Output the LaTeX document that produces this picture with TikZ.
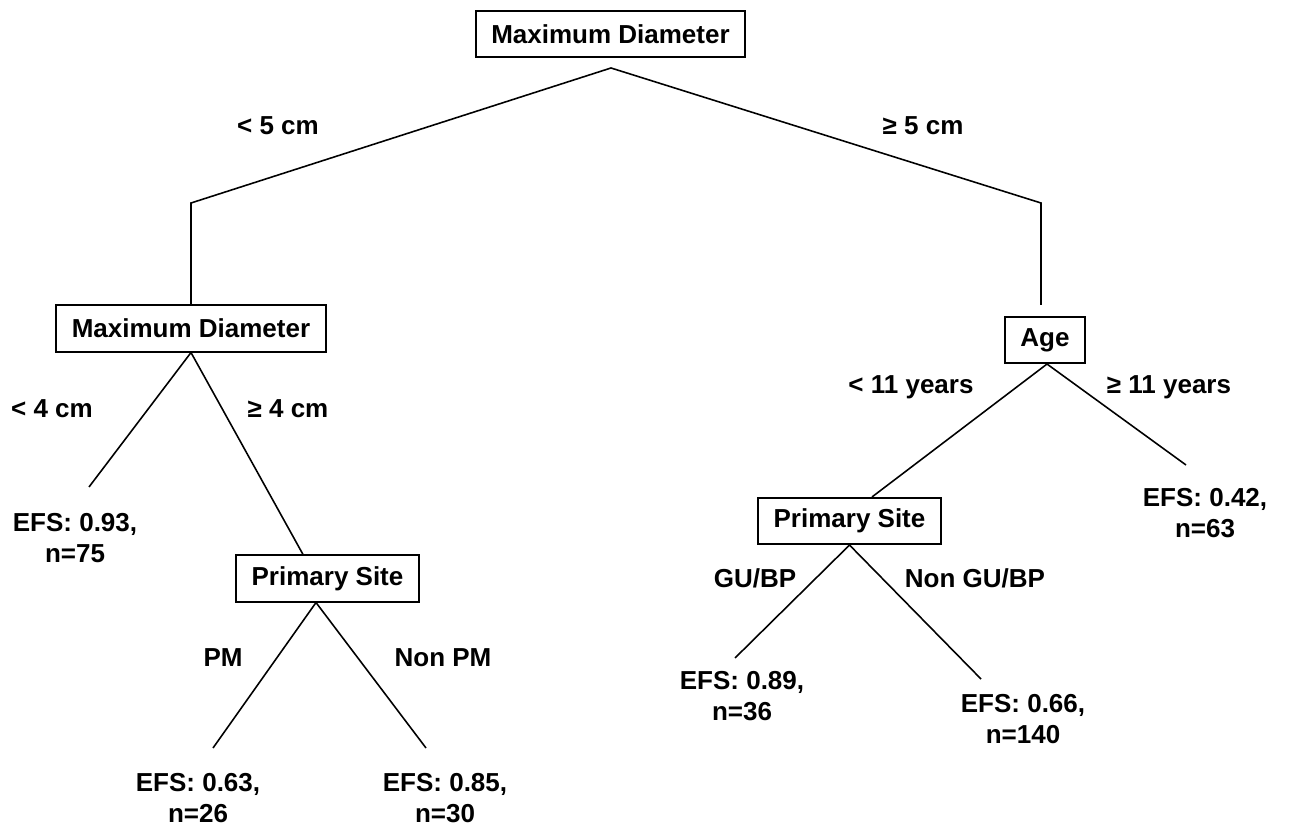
\documentclass[tikz,border=0pt]{standalone}
\usepackage{fontspec}
\setmainfont{Liberation Sans}
\usepackage{tikz}
\usetikzlibrary{positioning}
\newcommand{\treefont}{\fontsize{14.8}{17.6}\selectfont\bfseries}
\tikzset{
  split/.style={rectangle, draw=black, line width=0.9pt, fill=white, inner xsep=0.31cm, inner ysep=0pt, minimum height=0.93cm, font=\treefont},
  leaf/.style={align=center, inner sep=0pt, font=\treefont},
  cond/.style={inner sep=0pt, font=\treefont},
  branch/.style={line width=0.9pt, draw=black, line join=miter}
}

\begin{document}
\begin{tikzpicture}[x=0.02cm, y=-0.02cm]
  \useasboundingbox (0,0) rectangle (1290,830);

  % decision boxes
  \node[split] (root) at (610.5,34) {Maximum Diameter};
  \node[split] (diamL) at (191,328.5) {Maximum Diameter};
  \node[split] (age) at (1045,340) {Age};
  \node[split] (siteL) at (327.5,578.5) {Primary Site};
  \node[split] (siteR) at (849.5,521) {Primary Site};

  % terminal groups
  \node[leaf] (efsA) at (75,538) {EFS: 0.93,\\n=75};
  \node[leaf] (efsB) at (198,798) {EFS: 0.63,\\n=26};
  \node[leaf] (efsC) at (445,798) {EFS: 0.85,\\n=30};
  \node[leaf] (efsD) at (742,696) {EFS: 0.89,\\n=36};
  \node[leaf] (efsE) at (1023,719) {EFS: 0.66,\\n=140};
  \node[leaf] (efsF) at (1205,513) {EFS: 0.42,\\n=63};

  % split conditions
  \node[cond] (lt5) at (278,126) {< 5 cm};
  \node[cond] (ge5) at (923,126) {≥ 5 cm};
  \node[cond] (lt4) at (52,409) {< 4 cm};
  \node[cond] (ge4) at (288,409) {≥ 4 cm};
  \node[cond] (lt11) at (911,387) {< 11 years};
  \node[cond] (ge11) at (1169,387) {≥ 11 years};
  \node[cond] (pm) at (223,658) {PM};
  \node[cond] (nonpm) at (443,658) {Non PM};
  \node[cond] (gubp) at (755,578) {GU/BP};
  \node[cond] (nongubp) at (975,578) {Non GU/BP};

  % free ends of the branches
  \coordinate (apex) at (611,68);
  \coordinate (kneeL) at (191,203);
  \coordinate (kneeR) at (1041,203);
  \coordinate (ageIn) at (1041,305);
  \coordinate (endA) at (89,487);
  \coordinate (endB) at (213,748);
  \coordinate (endC) at (426,748);
  \coordinate (endD) at (735,658);
  \coordinate (endE) at (981,679);
  \coordinate (endF) at (1186,465);

  \draw[branch] (diamL.north) -- (kneeL) -- (apex) -- (kneeR) -- (ageIn);
  \draw[branch] (endA) -- (diamL.south) -- ([xshift=-0.49cm]siteL.north);
  \draw[branch] (endB) -- ([xshift=-0.23cm]siteL.south) -- (endC);
  \draw[branch] ([xshift=0.45cm]siteR.north) -- ([xshift=0.04cm]age.south) -- (endF);
  \draw[branch] (endD) -- (siteR.south) -- (endE);
\end{tikzpicture}
\end{document}
